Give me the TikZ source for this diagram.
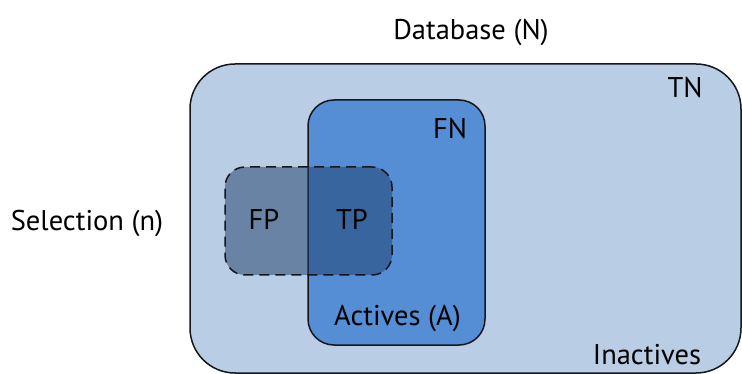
\documentclass[tikz,border=0pt]{standalone}
\usepackage{fontspec}
\setmainfont{PT Sans}
\definecolor{outerfill}{RGB}{185,205,229}
\definecolor{activefill}{RGB}{85,142,213}
\definecolor{selfill}{RGB}{33,65,108}
\definecolor{linecol}{RGB}{20,22,28}
\tikzset{
  box/.style={draw=linecol, line width=1.5pt, inner sep=0pt, rectangle},
  lbl/.style={font=\fontsize{28.5}{32}\selectfont, text=black, inner sep=0pt, anchor=base},
}
\begin{document}
\begin{tikzpicture}[x=1pt,y=-1pt]
\useasboundingbox (0,0) rectangle (742,374);
\clip (0,0) rectangle (742,374);
\node[box, fill=outerfill, rounded corners=45pt, minimum width=551pt, minimum height=309pt] (db) at (465.5,218.5) {};
\node[box, fill=activefill, rounded corners=26pt, minimum width=177pt, minimum height=245pt] (act) at (396.5,222.5) {};
\node[box, fill=selfill, fill opacity=0.52, dash pattern=on 10pt off 6pt, rounded corners=20pt, minimum width=167pt, minimum height=108pt] (sel) at (308.5,221) {};
\node[lbl] (dbl) at (471,40) {Database (N)};
\node[lbl] (tn) at (685,98) {TN};
\node[lbl] (fn) at (450,139) {FN};
\node[lbl] (fp) at (264,230) {FP};
\node[lbl] (tp) at (352,230) {TP};
\node[lbl] (sl) at (87,230.5) {Selection (n)};
\node[lbl] (al) at (397.5,325) {Actives (A)};
\node[lbl] (il) at (647,364) {Inactives};
\end{tikzpicture}
\end{document}
